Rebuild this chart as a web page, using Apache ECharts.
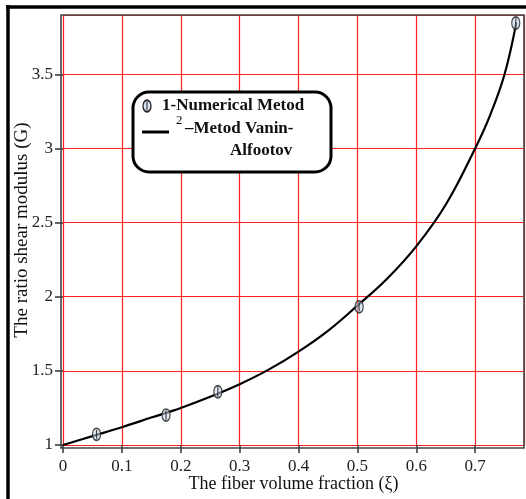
<!DOCTYPE html>
<html><head><meta charset="utf-8">
<script src="https://cdn.jsdelivr.net/npm/echarts@6/dist/echarts.min.js"></script>
<style>html,body{margin:0;padding:0;background:#fff}#c{width:526px;height:499px}</style>
</head><body><div id="c"></div>
<script>
// Data
const numX = [0.057, 0.175, 0.263, 0.503, 0.769];
const numY = [1.072, 1.202, 1.359, 1.932, 3.846];
const curveX = [0, 0.05, 0.1, 0.15, 0.2, 0.25, 0.3, 0.35, 0.4, 0.45, 0.5, 0.55, 0.6, 0.65, 0.7, 0.725, 0.75, 0.77];
const curveY = [1.0, 1.06, 1.12, 1.185, 1.25, 1.325, 1.41, 1.51, 1.63, 1.77, 1.94, 2.12, 2.34, 2.62, 3.0, 3.22, 3.5, 3.85];
const xTitle = 'The fiber volume fraction (ξ)';
const yTitle = 'The ratio shear modulus (G)';
const legend1 = '1-Numerical Metod';
const legend2a = '2';
const legend2b = '–Metod Vanin-';
const legend2c = 'Alfootov';

const chart = echarts.init(document.getElementById('c'));
const serif = '"Liberation Serif","Times New Roman",serif';
const ellipse = 'path://M5,0 C8,0 10,3 10,7.5 C10,12 8,15 5,15 C2,15 0,12 0,7.5 C0,3 2,0 5,0 Z M5,2 L5,13';
chart.setOption({
  animation: false,
  grid: {left: 63, right: 2, top: 15, bottom: 54, show: false, containLabel: false, outerBoundsMode: 'none'},
  xAxis: {
    type: 'value', min: 0, max: 0.783, interval: 0.1,
    name: xTitle, nameLocation: 'middle', nameGap: 30, nameMoveOverlap: false,
    nameTextStyle: {fontFamily: serif, fontSize: 18, color: '#111'},
    axisLine: {show: false},
    axisTick: {show: true, length: 8, lineStyle: {color: '#333', width: 1.5}},
    axisLabel: {fontFamily: serif, fontSize: 17, color: '#222', margin: 13, showMaxLabel: false,
      formatter: v => (Math.round(v*10)/10 === v ? String(v) : '')},
    splitLine: {show: true, lineStyle: {color: '#ff2020', width: 1.2}}
  },
  yAxis: {
    type: 'value', min: 1, max: 3.9, interval: 0.5,
    name: yTitle, nameLocation: 'middle', nameGap: 31, nameRotate: 90, nameMoveOverlap: false,
    nameTextStyle: {fontFamily: serif, fontSize: 19, color: '#111'},
    axisLine: {show: false},
    axisTick: {show: true, length: 8, lineStyle: {color: '#333', width: 1.5}},
    axisLabel: {fontFamily: serif, fontSize: 17, color: '#222', margin: 10, showMaxLabel: false,
      formatter: v => (Math.round(v*2)/2 === v ? String(v) : '')},
    splitLine: {show: true, lineStyle: {color: '#ff2020', width: 1.2}}
  },
  series: [
    {type: 'line', data: curveX.map((x, i) => [x, curveY[i]]), smooth: 0.4, symbol: 'none',
     lineStyle: {color: '#000', width: 2.2}, z: 3},
    {type: 'scatter', data: numX.map((x, i) => [x, numY[i]]), symbol: ellipse, symbolSize: [8, 12],
     itemStyle: {color: 'rgba(200,215,235,0.7)', borderColor: '#222', borderWidth: 1.5}, z: 4}
  ],
  graphic: [
    {type: 'rect', shape: {x: 61, y: 15, width: 463, height: 433}, style: {fill: 'none', stroke: '#444', lineWidth: 1.6}, z: 1, silent: true},
    {type: 'line', shape: {x1: 8, y1: 5, x2: 8, y2: 499}, style: {stroke: '#000', lineWidth: 3.5}},
    {type: 'line', shape: {x1: 6, y1: 7, x2: 526, y2: 7}, style: {stroke: '#000', lineWidth: 3.5}},
    {type: 'rect', shape: {x: 133, y: 92, width: 198, height: 80, r: 16}, style: {fill: '#fff', stroke: '#000', lineWidth: 3}, z: 10},
    {type: 'circle', x: 147, y: 106, scaleY: 1.45, shape: {cx: 0, cy: 0, r: 4},
     style: {fill: 'rgba(200,215,235,0.7)', stroke: '#222', lineWidth: 1.3}, z: 11},
    {type: 'line', shape: {x1: 147, y1: 102, x2: 147, y2: 110}, style: {stroke: '#222', lineWidth: 1}, z: 12},
    {type: 'text', x: 162, y: 106, style: {text: legend1, font: 'bold 17px ' + serif, fill: '#111', textVerticalAlign: 'middle'}, z: 11},
    {type: 'line', shape: {x1: 142, y1: 132, x2: 169, y2: 132}, style: {stroke: '#000', lineWidth: 3}, z: 11},
    {type: 'text', x: 176, y: 121, style: {text: legend2a, font: '13px ' + serif, fill: '#111', textVerticalAlign: 'middle'}, z: 11},
    {type: 'text', x: 185, y: 129, style: {text: legend2b, font: 'bold 17px ' + serif, fill: '#111', textVerticalAlign: 'middle'}, z: 11},
    {type: 'text', x: 230, y: 151, style: {text: legend2c, font: 'bold 17px ' + serif, fill: '#111', textVerticalAlign: 'middle'}, z: 11}
  ]
});
</script></body></html>
